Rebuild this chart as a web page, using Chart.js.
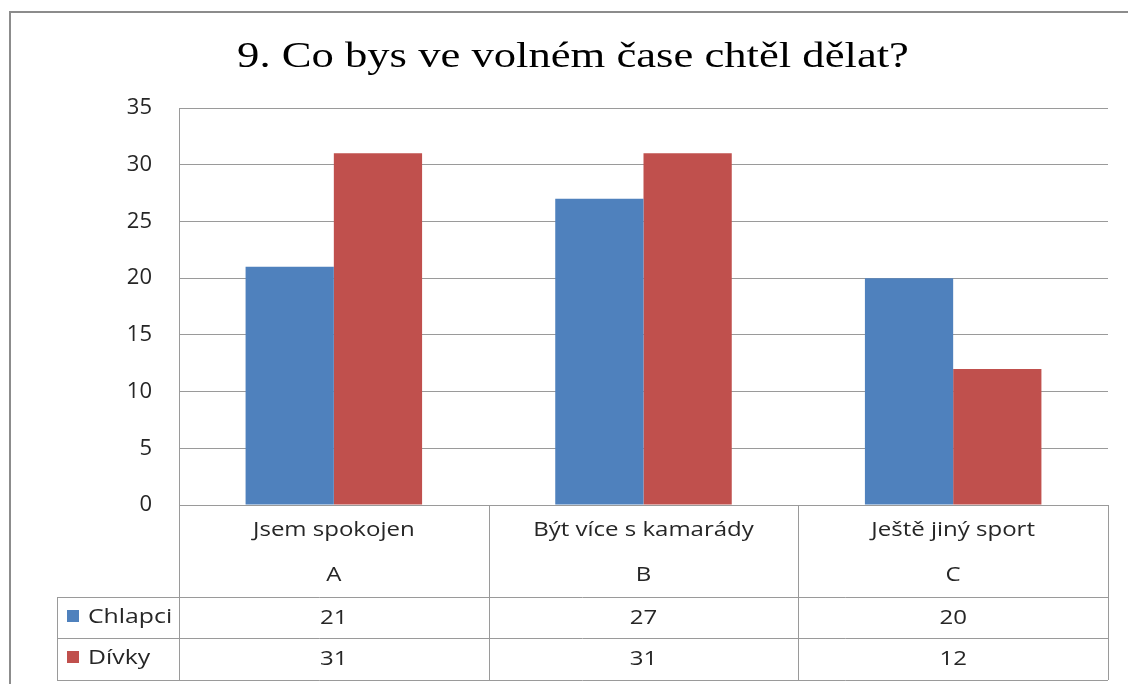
<!DOCTYPE html>
<html>
<head>
<meta charset="utf-8">
<script src="https://cdn.jsdelivr.net/npm/chart.js@4/dist/chart.umd.min.js"></script>
<style>
  html, body { margin: 0; padding: 0; background: #fff; }
  #wrap { width: 1128px; height: 684px; position: relative; }
</style>
</head>
<body>
<div id="wrap"><canvas id="freeTimeChart" width="1128" height="684"></canvas></div>
<script>
// data
const chartTitle = "9. Co bys ve volném čase chtěl dělat?";
const categories = ["Jsem spokojen", "Být více s kamarády", "Ještě jiný sport"];
const categoryLetters = ["A", "B", "C"];
const seriesNames = ["Chlapci", "Dívky"];
const boysValues = [21, 27, 20];
const girlsValues = [31, 31, 12];
const yTicks = [0, 5, 10, 15, 20, 25, 30, 35];

const seriesColors = ["#4F81BD", "#C0504D"];
const lineColor = "#9a9a9a";
const textFont = "'Open Sans', 'DejaVu Sans', sans-serif";

//the original picture is a bit stretched sideways
function wideText(c, text, x, y, align, stretch) {
    c.save();
    c.translate(x, y);
    c.scale(stretch, 1);
    c.textAlign = align;
    c.fillText(text, 0, 0);
    c.restore();
}

//frame, title and the data table under the plot
const tablePlugin = {
    id: "dataTable",
    beforeDraw(chart) {
        const c = chart.ctx;
        c.save();
        c.strokeStyle = "#8c8c8c";
        c.lineWidth = 2;
        c.strokeRect(10, 12, 1140, 700);
        c.restore();
    },
    afterDraw(chart) {
        const c = chart.ctx;
        const area = chart.chartArea;
        const xs = chart.scales.x;
        const colW = (area.right - area.left) / categories.length;
        const top = area.bottom;
        const headBottom = top + 92;
        const row1Bottom = headBottom + 41;
        const row2Bottom = row1Bottom + 42;
        const legendLeft = 57;

        c.save();
        // title
        c.fillStyle = "#000";
        c.font = "36px 'Liberation Serif', serif";
        c.textBaseline = "middle";
        wideText(c, chartTitle, 573, 58, "center", 1.24);

        // grid of the table
        c.strokeStyle = lineColor;
        c.lineWidth = 1;
        c.beginPath();
        c.moveTo(area.left, top + 0.5);
        c.lineTo(area.right, top + 0.5);
        [headBottom, row1Bottom, row2Bottom].forEach(y => {
            c.moveTo(legendLeft, y + 0.5);
            c.lineTo(area.right, y + 0.5);
        });
        for (let i = 0; i <= categories.length; i++) {
            const x = Math.round(area.left + i * colW) + 0.5;
            c.moveTo(x, top);
            c.lineTo(x, row2Bottom);
        }
        c.moveTo(legendLeft + 0.5, headBottom);
        c.lineTo(legendLeft + 0.5, row2Bottom);
        c.stroke();

        // header texts and values
        c.fillStyle = "#262626";
        c.font = "20px " + textFont;
        categories.forEach((name, i) => {
            const cx = xs.getPixelForValue(i);
            wideText(c, name, cx, top + 25, "center", 1.2);
            wideText(c, categoryLetters[i], cx, top + 70, "center", 1.2);
            wideText(c, String(boysValues[i]), cx, headBottom + 21, "center", 1.2);
            wideText(c, String(girlsValues[i]), cx, row1Bottom + 21, "center", 1.2);
        });

        // legend keys in the first column
        [headBottom, row1Bottom].forEach((y, i) => {
            c.fillStyle = seriesColors[i];
            c.fillRect(legendLeft + 10, y + 13, 12, 12);
            c.fillStyle = "#262626";
            wideText(c, seriesNames[i], legendLeft + 31, y + 20, "left", 1.24);
        });
        c.restore();
    }
};

const ctx = document.getElementById("freeTimeChart").getContext("2d");
const myChart = new Chart(ctx, {
    type: "bar",
    data: {
        labels: categories,
        datasets: [
            {
                label: seriesNames[0],
                data: boysValues,
                backgroundColor: seriesColors[0],
            },
            {
                label: seriesNames[1],
                data: girlsValues,
                backgroundColor: seriesColors[1],
            },
        ],
    },
    options: {
        responsive: false,
        animation: false,
        layout: {
            padding: { top: 108, right: 20, bottom: 179, left: 0 },
        },
        datasets: {
            bar: { categoryPercentage: 0.57, barPercentage: 1.0 },
        },
        plugins: {
            legend: { display: false },
            title: { display: false },
            tooltip: { enabled: false },
        },
        scales: {
            x: { display: false },
            y: {
                min: 0,
                max: 35,
                afterFit(scale) { scale.width = 179; },
                afterBuildTicks(scale) { scale.ticks = yTicks.map(v => ({ value: v })); },
                grid: { color: lineColor, drawTicks: false },
                border: { color: lineColor },
                ticks: {
                    padding: 27,
                    color: "#262626",
                    font: { family: textFont, size: 22 },
                },
            },
        },
    },
    plugins: [tablePlugin],
});
</script>
</body>
</html>
